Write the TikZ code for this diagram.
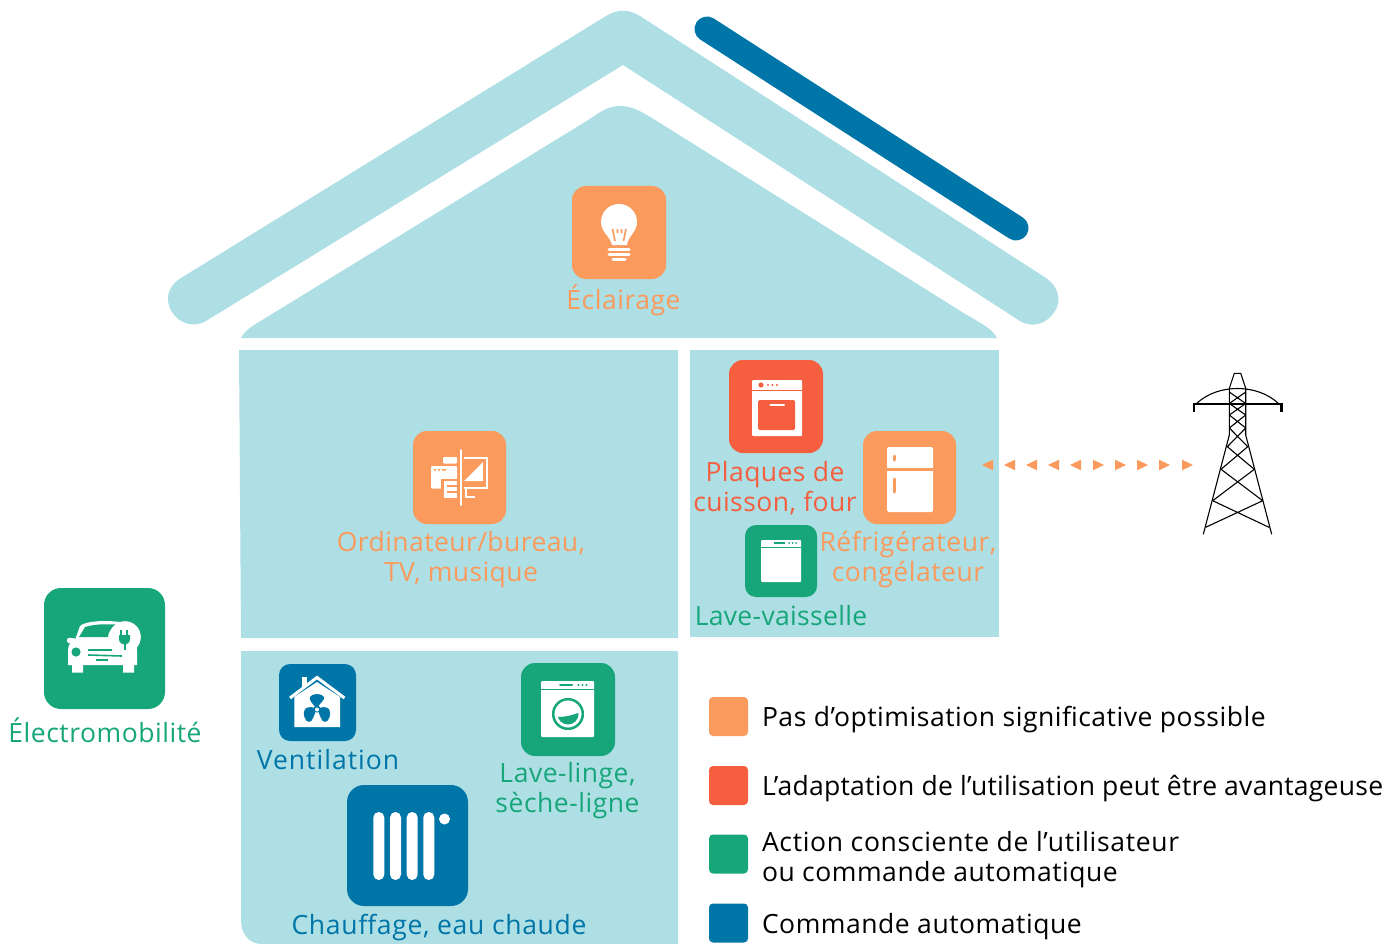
\documentclass[tikz,border=0pt]{standalone}
\usepackage{fontspec}
\setmainfont[LetterSpace=2.0]{Open Sans}
\newcommand{\lsp}[1]{\addfontfeature{LetterSpace=#1}}
\definecolor{lightb}{HTML}{AEDFE4}
\definecolor{orng}{HTML}{FA9A5C}
\definecolor{redd}{HTML}{F55E3F}
\definecolor{gren}{HTML}{17A679}
\definecolor{blu}{HTML}{0075A8}
\tikzset{
  iconbox/.style={rounded corners=#1, inner sep=0pt, outer sep=0pt},
  swatch/.style={rounded corners=4pt, inner sep=0pt, minimum width=39pt, minimum height=39pt, fill=#1},
  lbl/.style={inner sep=0pt, outer sep=0pt, align=center, anchor=base, font=\fontsize{26.5}{29.5}\selectfont},
  legendt/.style={inner sep=0pt, outer sep=0pt, align=left, anchor=base west, font=\fontsize{26.5}{29.5}\selectfont},
  pylonl/.style={line width=1.1pt, black},
}
\begin{document}
\begin{tikzpicture}[x=1pt,y=-1pt]
\useasboundingbox (0,0) rectangle (1397,944);
% house
\fill[lightb] (181,278) -- (606,16) .. controls (617,9) and (629,9) .. (640,16) -- (1046,278)
  .. controls (1058,286) and (1062,300) .. (1055,311) .. controls (1048,323) and (1033,329) .. (1020,321)
  -- (623,65) -- (206,321) .. controls (192,329) and (178,322) .. (172,312) .. controls (164,299) and (168,286) .. (181,278) -- cycle;
\fill[lightb] (241,338) .. controls (246,328) and (258,323) .. (272,314) -- (585,122)
  .. controls (597,114.6) and (606,106) .. (620,106) .. controls (632,106) and (642,112) .. (652,118)
  -- (962,312) .. controls (980,323) and (992,328) .. (997,338) -- cycle;
\fill[lightb] (239,350) -- (678,350) -- (678,638) -- (241,638) -- cycle;
\fill[lightb] (690,350) rectangle (999,637);
\fill[lightb] (241,651) -- (678,651) -- (678,944) -- (262,944) .. controls (249,944) and (241,934) .. (241,920) -- cycle;
% solar panel
\coordinate (sunA) at (707,29);
\coordinate (sunB) at (1016,228);
\draw[blu, line width=25pt, line cap=round] (sunA) -- (sunB);

% icon boxes
\node[iconbox=14pt, fill=orng, minimum width=94pt, minimum height=93pt] (bulb) at (619,232.5) {};
\node[iconbox=14pt, fill=orng, minimum width=93pt, minimum height=93pt] (office) at (459.5,477.5) {};
\node[iconbox=14pt, fill=redd, minimum width=94pt, minimum height=93pt] (oven) at (776,406.5) {};
\node[iconbox=14pt, fill=orng, minimum width=93pt, minimum height=93pt] (fridge) at (909.5,477.5) {};
\node[iconbox=11pt, fill=gren, minimum width=72pt, minimum height=72pt] (dish) at (781,561) {};
\node[iconbox=17pt, fill=gren, minimum width=121pt, minimum height=121pt] (car) at (104.5,648.5) {};
\node[iconbox=11pt, fill=blu, minimum width=77pt, minimum height=77pt] (vent) at (317.5,702.5) {};
\node[iconbox=14pt, fill=gren, minimum width=94pt, minimum height=93pt] (washer) at (568,709.5) {};
\node[iconbox=17pt, fill=blu, minimum width=121pt, minimum height=121pt] (radiator) at (407.5,845.5) {};

% bulb glyph
\fill[white] (612,245) .. controls (610,236) and (601,232) .. (601,222) .. controls (601,212) and (609,204) .. (619,204)
  .. controls (629,204) and (637,212) .. (637,222) .. controls (637,232) and (628,236) .. (627,245) -- cycle;
\draw[orng, line width=1.6pt] (612.5,229) -- (615,241) (626,229) -- (623.5,241) (617.5,229) -- (617.5,233) (621.5,229) -- (621.5,233);
\draw[white, line width=3pt, line cap=round] (609,249) -- (629,249) (609,254) -- (629,254) (613,259) -- (625,259);

% office glyph
\draw[white, line width=2pt, line cap=round] (460.5,450) -- (460.5,505);
\draw[white, line width=2pt] (464,458) -- (486.5,458) -- (486.5,487.5) -- (464,487.5);
\fill[white] (464,481) -- (483,462) -- (483,481) -- cycle;
\draw[white, line width=2pt] (466,488) -- (466,496.5) -- (475,496.5);
\fill[white, rounded corners=1pt] (443,457) rectangle (457,463.5);
\fill[white, rounded corners=1pt] (431,466) rectangle (457,488.5);
\fill[orng] (434,469) rectangle (436,470.5) (438,469) rectangle (440,470.5) (442,469) rectangle (446,470.5);
\fill[orng] (441,479) rectangle (458,499);
\fill[white] (444,481) rectangle (457,498);
\draw[orng, line width=1.5pt] (447,486) -- (457,486) (447,492) -- (457,492);

% oven glyph
\fill[white, rounded corners=1pt] (752,380) rectangle (802,436);
\fill[redd] (752,389.5) rectangle (802,391);
\fill[redd] (761,385) circle (2.6);
\fill[redd] (768,385) circle (1.1) (772.5,385) circle (1.1) (777,385) circle (1.1);
\fill[redd, rounded corners=1.5pt] (758,400) rectangle (795,430);
\draw[white, line width=2.4pt, line cap=round] (770.5,405) -- (784,405);

% fridge glyph
\fill[white, rounded corners=1.5pt] (887,447) rectangle (933,512);
\fill[orng] (887,468) rectangle (933,471);
\draw[orng, line width=3pt, line cap=round] (894.5,456) -- (894.5,460) (894.5,479) -- (894.5,492);

% dishwasher glyph
\fill[white, rounded corners=1pt] (761,540) rectangle (801,582);
\fill[gren] (761,546.5) rectangle (801,548);
\draw[gren, line width=1.8pt] (774,543) -- (785,543);
\fill[gren] (789,543) circle (1) (792.5,543) circle (1) (796,543) circle (1);

% washer glyph
\fill[white, rounded corners=1pt] (541,681) rectangle (594,737);
\fill[gren] (541,688.5) rectangle (594,690);
\draw[gren, line width=2pt, line cap=round] (560,685) -- (572,685);
\fill[gren] (578.5,685) circle (1.1) (582.5,685) circle (1.1) (586.5,685) circle (1.1);
\draw[gren, line width=2.5pt] (568,714) circle (14.8);
\begin{scope}
  \clip (568,714) circle (10.5);
  \fill[gren] (552,715) .. controls (560,719) and (570,716) .. (584,711) -- (584,730) -- (552,730) -- cycle;
\end{scope}

% radiator glyph
\fill[white, rounded corners=5.4pt] (373.3,812) rectangle (384.3,880);
\fill[white, rounded corners=5.4pt] (390,812) rectangle (401,880);
\fill[white, rounded corners=5.4pt] (406.7,812) rectangle (417.7,880);
\fill[white, rounded corners=5.4pt] (423.3,812) rectangle (434.3,880);
\fill[white] (444.5,819) circle (5.5);

% ventilation glyph
\fill[white] (294.3,727) -- (340,727) -- (340,697) -- (317,682) -- (294.3,697) -- cycle;
\fill[white] (301.5,677) rectangle (307,687);
\draw[white, line width=3pt] (290,698) -- (317,677.5) -- (344.5,698);
\fill[blu] (317,708) .. controls (312,704) and (309,700) .. (310,697) .. controls (312,693) and (322,693) .. (324,697) .. controls (325,700) and (320,703) .. (317,708) -- cycle;
\fill[blu] (317,709) .. controls (321,707) and (326,706) .. (329,709) .. controls (332,713) and (329,722) .. (325,722) .. controls (321,722) and (320,714) .. (317,709) -- cycle;
\fill[blu] (317,709) .. controls (313,707) and (308,706) .. (305,709) .. controls (302,713) and (305,722) .. (309,722) .. controls (313,722) and (314,714) .. (317,709) -- cycle;
\fill[blu] (317,709) circle (3.5);
\fill[white] (317,709.5) circle (2);

% car glyph
\fill[white] (68,665) -- (68,650) .. controls (68,644) and (72,641) .. (75,640) -- (80,626)
  .. controls (85,621) and (105,620) .. (120,622) -- (134,640) .. controls (136,642) and (137,646) .. (137,650) -- (137,665) -- (134,665)
  -- (134,672.5) -- (123,672.5) -- (123,665) -- (83,665) -- (83,672.5) -- (72,672.5) -- (72,665) -- cycle;
\draw[white, line width=5.5pt, line cap=round] (69.5,640.5) -- (76,641.5);
\fill[gren] (79,637) -- (85,627) .. controls (95,624) and (105,624) .. (116,624.5) .. controls (111,628) and (108,633) .. (108,637) -- cycle;
\fill[white] (125,637) circle (15.8);
\fill[gren] (76,652) circle (4.6);
\draw[gren, line width=1.6pt] (88,650) -- (112,650) (88,655) -- (122,656);
\draw[gren, line width=2pt] (96,660) -- (108,660);
\draw[gren, line width=2pt] (121,630) -- (121,636) (127,630) -- (127,636);
\fill[gren] (119,635) -- (130,635) -- (130,639) .. controls (130,643) and (127,644) .. (125,645) .. controls (122,644) and (119,643) .. (119,639) -- cycle;
\draw[gren, line width=2pt] (125,644) -- (125,650);

% arrows from home to pylon
\foreach \tip in {982,1004,1026,1048,1070}
  \fill[orng] (\tip,465) -- (\tip+11,459.7) -- (\tip+11,470.3) -- cycle;
\foreach \base in {1093,1115,1137,1159,1182}
  \fill[orng] (\base,459.7) -- (\base+11,465) -- (\base,470.3) -- cycle;

% pylon
\draw[pylonl] (1229.3,435) -- (1229.3,388.3) -- (1234.3,373.3) -- (1240.7,373.3) -- (1245.7,388.3) -- (1245.7,435);
\draw[pylonl] (1229.3,435) -- (1203.3,534.3);
\draw[pylonl] (1245.7,435) -- (1271.7,534.3);
\draw[pylonl] (1196.7,403.3) .. controls (1208,393) and (1223,388.5) .. (1237.5,388.5) .. controls (1252,388.5) and (1267,393) .. (1278.3,403.3);
\draw[pylonl] (1229.3,392) -- (1245.7,403.5) (1245.7,392) -- (1229.3,403.5)
  (1229.3,403.5) -- (1245.7,415) (1245.7,403.5) -- (1229.3,415)
  (1229.3,415) -- (1245.7,428) (1245.7,415) -- (1229.3,428)
  (1229.3,428) -- (1247.7,446.7) (1245.7,428) -- (1227.3,446.7)
  (1227.3,446.7) -- (1254.3,469.3) (1247.7,446.7) -- (1221,469.3)
  (1221,469.3) -- (1262.7,500.7) (1254.3,469.3) -- (1212.7,500.7)
  (1212.7,500.7) -- (1269,527.3) (1262.7,500.7) -- (1205.7,527.3);
\draw[black, line width=2.5pt] (1194,411.7) -- (1194,404) -- (1281.7,404) -- (1281.7,411.7);

% labels
\node[lbl, text=orng] (tEcl) at (623.5,309) {Éclairage};
\node[lbl, text=orng] (tOrd) at (461,581) {\lsp{1.6}Ordinateur/bureau,\\\lsp{1.6}TV, musique};
\node[lbl, text=redd] (tPla) at (775,511) {\lsp{1.6}Plaques de\\\lsp{1.6}cuisson, four};
\node[lbl, text=orng] (tRef) at (908,581) {Réfrigérateur,\\congélateur};
\node[lbl, text=gren] (tLav) at (781,625) {\lsp{1.2}Lave-vaisselle};
\node[lbl, text=gren] (tEle) at (105,742) {Électromobilité};
\node[lbl, text=blu] (tVen) at (328,769) {\lsp{3.8}Ventilation};
\node[lbl, text=gren] (tLin) at (567.5,812) {Lave-linge,\\sèche-ligne};
\node[lbl, text=blu] (tCha) at (439,934) {\lsp{2.6}Chauffage, eau chaude};

% legend
\node[swatch=orng] (s1) at (728.5,716.5) {};
\node[swatch=redd] (s2) at (728.5,785.5) {};
\node[swatch=gren] (s3) at (728.5,854) {};
\node[swatch=blu] (s4) at (728.5,923) {};
\node[legendt] (l1) at (762,726) {Pas d’optimisation significative possible};
\node[legendt] (l2) at (762,795) {\lsp{1.0}L’adaptation de l’utilisation peut être avantageuse};
\node[legendt] (l3) at (762,881) {\lsp{2.6}Action consciente de l’utilisateur\\\lsp{2.0}ou commande automatique};
\node[legendt] (l4) at (762,933) {Commande automatique};
\end{tikzpicture}
\end{document}
